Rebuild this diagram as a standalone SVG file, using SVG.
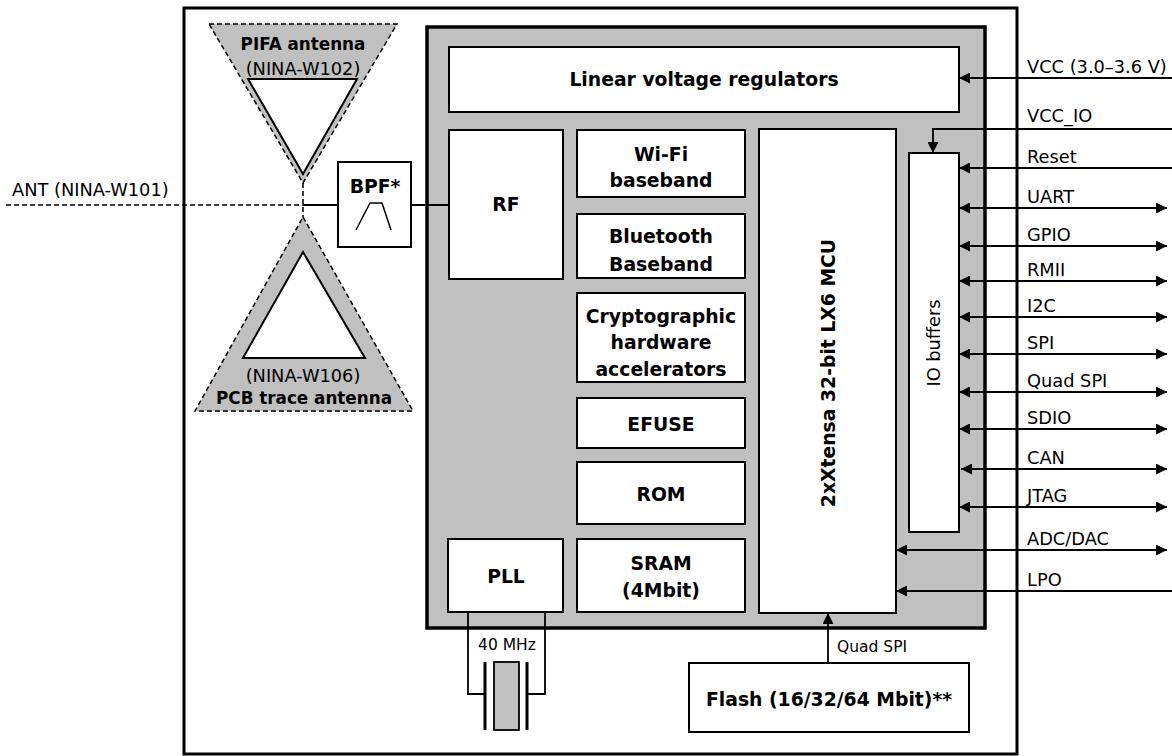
<svg xmlns="http://www.w3.org/2000/svg" width="1172" height="756" viewBox="0 0 1172 756">
<style>
  .b { font-family: "DejaVu Sans", "Liberation Sans", sans-serif; font-weight: bold; font-size: 18.8px; fill: #000; text-anchor: middle; }
  .ba { font-size: 16.8px; }
  .r { font-family: "DejaVu Sans", "Liberation Sans", sans-serif; font-size: 17.8px; fill: #000; }
  .s { font-family: "DejaVu Sans", "Liberation Sans", sans-serif; font-size: 15.5px; fill: #000; }
  .blk { fill: #fff; stroke: #000; stroke-width: 2; }
  .ln { fill: none; stroke: #000; stroke-width: 1.8; }
  .dash { fill: none; stroke: #000; stroke-width: 1.5; stroke-dasharray: 5 3; }
  .ant { fill: #c0c0c0; stroke: #000; stroke-width: 1.5; stroke-dasharray: 5 3; }
</style>
<defs>
  <marker id="ah" viewBox="0 0 11 11" refX="11" refY="5.5" markerWidth="11" markerHeight="11" markerUnits="userSpaceOnUse" orient="auto-start-reverse">
    <path d="M0,0 L11,5.5 L0,11 z" fill="#000"/>
  </marker>
</defs>
<rect width="1172" height="756" fill="#fff"/>

<g id="module">
  <rect x="184" y="8" width="833" height="746" fill="#fff" stroke="#000" stroke-width="3"/>
</g>

<g id="chip">
  <rect x="427" y="27" width="558" height="601" fill="#c0c0c0" stroke="#000" stroke-width="3.5"/>
</g>

<g id="pifa-antenna">
  <polygon points="209,24 397,24 303,183" class="ant"/>
  <polygon points="248,79 357,79 303,174" class="blk"/>
  <text class="b ba" x="303" y="50">PIFA antenna</text>
  <text class="r" x="303" y="75" text-anchor="middle">(NINA-W102)</text>
</g>

<g id="pcb-antenna">
  <polygon points="303,217 413,411 195,411" class="ant"/>
  <polygon points="303,252 365,358 243,358" class="blk"/>
  <text class="r" x="303" y="382" text-anchor="middle">(NINA-W106)</text>
  <text class="b ba" x="304" y="404">PCB trace antenna</text>
</g>

<g id="bpf">
  <rect x="338" y="162" width="73" height="85" class="blk"/>
  <text class="b" x="375" y="193">BPF*</text>
  <polyline points="356,230 370,203 382,203 391,230" fill="none" stroke="#000" stroke-width="1.5"/>
</g>

<g id="lvr">
  <rect x="449" y="47" width="510" height="65" class="blk"/>
  <text class="b" x="704" y="86">Linear voltage regulators</text>
</g>

<g id="rf">
  <rect x="449" y="130" width="114" height="149" class="blk"/>
  <text class="b" x="506" y="211">RF</text>
</g>

<g id="wifi">
  <rect x="577" y="130" width="168" height="67" class="blk"/>
  <text class="b" x="661" y="161">Wi-Fi</text>
  <text class="b" x="661" y="187">baseband</text>
</g>

<g id="bluetooth">
  <rect x="577" y="214" width="168" height="64" class="blk"/>
  <text class="b" x="661" y="243">Bluetooth</text>
  <text class="b" x="661" y="271">Baseband</text>
</g>

<g id="crypto">
  <rect x="577" y="293" width="168" height="89" class="blk"/>
  <text class="b" x="661" y="323">Cryptographic</text>
  <text class="b" x="661" y="349">hardware</text>
  <text class="b" x="661" y="376">accelerators</text>
</g>

<g id="efuse">
  <rect x="577" y="398" width="168" height="50" class="blk"/>
  <text class="b" x="661" y="431">EFUSE</text>
</g>

<g id="rom">
  <rect x="577" y="462" width="168" height="62" class="blk"/>
  <text class="b" x="661" y="501">ROM</text>
</g>

<g id="sram">
  <rect x="577" y="539" width="168" height="73" class="blk"/>
  <text class="b" x="661" y="570">SRAM</text>
  <text class="b" x="661" y="597">(4Mbit)</text>
</g>

<g id="pll">
  <rect x="448" y="539" width="115" height="73" class="blk"/>
  <text class="b" x="506" y="583">PLL</text>
</g>

<g id="mcu">
  <rect x="759" y="129" width="137" height="484" class="blk"/>
  <text class="b" transform="translate(835,373) rotate(-90)">2xXtensa 32-bit LX6 MCU</text>
</g>

<g id="io-buffers">
  <rect x="909" y="153" width="50" height="379" class="blk"/>
  <text class="r" text-anchor="middle" transform="translate(940,343) rotate(-90)">IO buffers</text>
</g>

<g id="flash">
  <rect x="689" y="663" width="280" height="69" class="blk"/>
  <text class="b" x="829" y="706">Flash (16/32/64 Mbit)**</text>
</g>

<g id="crystal">
  <rect x="494" y="662" width="25" height="68" fill="#c0c0c0" stroke="#000" stroke-width="1.8"/>
  <line x1="485" y1="662" x2="485" y2="730" stroke="#000" stroke-width="3"/>
  <line x1="527" y1="662" x2="527" y2="730" stroke="#000" stroke-width="3"/>
  <text class="s" x="507" y="650" text-anchor="middle">40 MHz</text>
</g>

<g id="connectors">
  <line x1="6" y1="205" x2="303" y2="205" class="dash"/>
  <line x1="303" y1="183" x2="303" y2="217" class="dash"/>
  <line x1="303" y1="205" x2="338" y2="205" class="ln"/>
  <line x1="411" y1="205" x2="449" y2="205" class="ln"/>
  <polyline points="468,612 468,694 485,694" class="ln"/>
  <polyline points="545,612 545,694 527,694" class="ln"/>
  <line x1="828" y1="663" x2="828" y2="613" class="ln" marker-end="url(#ah)"/>
  <line x1="1172" y1="78" x2="959" y2="78" class="ln" marker-end="url(#ah)"/>
  <polyline points="1172,129 933,129 933,153" class="ln" marker-end="url(#ah)"/>
  <line x1="1172" y1="168" x2="959" y2="168" class="ln" marker-end="url(#ah)"/>
  <line x1="1167" y1="208" x2="959" y2="208" class="ln" marker-start="url(#ah)" marker-end="url(#ah)"/>
  <line x1="1167" y1="246" x2="959" y2="246" class="ln" marker-start="url(#ah)" marker-end="url(#ah)"/>
  <line x1="1167" y1="281" x2="959" y2="281" class="ln" marker-start="url(#ah)" marker-end="url(#ah)"/>
  <line x1="1167" y1="317" x2="959" y2="317" class="ln" marker-start="url(#ah)" marker-end="url(#ah)"/>
  <line x1="1167" y1="354" x2="959" y2="354" class="ln" marker-start="url(#ah)" marker-end="url(#ah)"/>
  <line x1="1167" y1="392" x2="959" y2="392" class="ln" marker-start="url(#ah)" marker-end="url(#ah)"/>
  <line x1="1167" y1="429" x2="959" y2="429" class="ln" marker-start="url(#ah)" marker-end="url(#ah)"/>
  <line x1="1167" y1="469" x2="961" y2="469" class="ln" marker-start="url(#ah)" marker-end="url(#ah)"/>
  <line x1="1167" y1="507" x2="959" y2="507" class="ln" marker-start="url(#ah)" marker-end="url(#ah)"/>
  <line x1="1167" y1="550" x2="896" y2="550" class="ln" marker-start="url(#ah)" marker-end="url(#ah)"/>
  <line x1="1172" y1="591" x2="896" y2="591" class="ln" marker-end="url(#ah)"/>
</g>

<g id="labels">
  <text class="r" x="12" y="196">ANT (NINA-W101)</text>
  <text class="r" x="1027" y="73">VCC (3.0–3.6 V)</text>
  <text class="r" x="1027" y="122">VCC_IO</text>
  <text class="r" x="1027" y="163">Reset</text>
  <text class="r" x="1027" y="203">UART</text>
  <text class="r" x="1027" y="241">GPIO</text>
  <text class="r" x="1027" y="276">RMII</text>
  <text class="r" x="1027" y="312">I2C</text>
  <text class="r" x="1027" y="349">SPI</text>
  <text class="r" x="1027" y="387">Quad SPI</text>
  <text class="r" x="1027" y="424">SDIO</text>
  <text class="r" x="1027" y="464">CAN</text>
  <text class="r" x="1027" y="502">JTAG</text>
  <text class="r" x="1027" y="545">ADC/DAC</text>
  <text class="r" x="1027" y="586">LPO</text>
  <text class="s" x="837" y="652">Quad SPI</text>
</g>
</svg>
